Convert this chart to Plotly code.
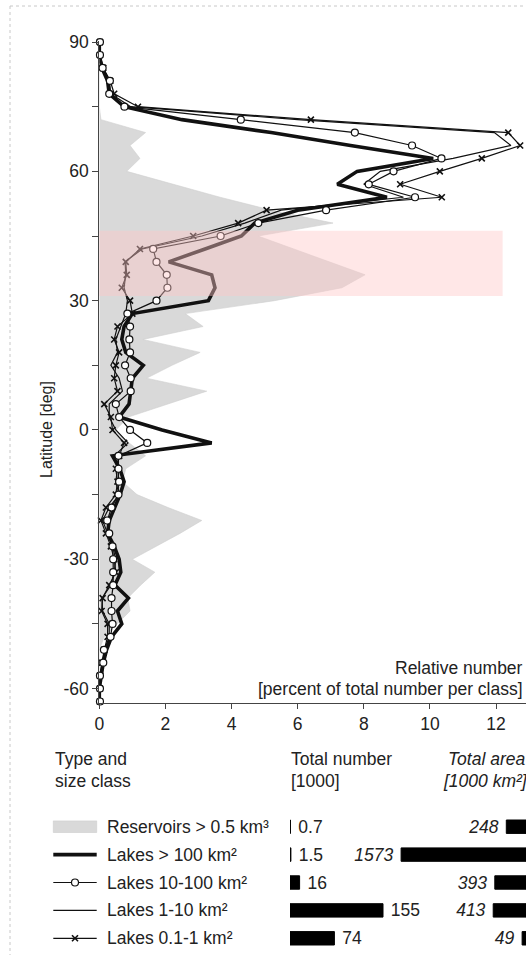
import plotly.graph_objects as go

W, H = 526, 955
FONT = "Liberation Sans, Arial, Helvetica, sans-serif"
TXT = "#222222"
FS = 17.5

# ---------------- data ----------------
lat = [90, 87, 84, 81, 78, 75, 72, 69, 66, 63, 60, 57, 54, 51, 48, 45, 42, 39, 36, 33,
       30, 27, 24, 21, 18, 15, 12, 9, 6, 3, 0, -3, -6, -9, -12, -15, -18, -21, -24, -27,
       -30, -33, -36, -39, -42, -45, -48, -51, -54, -57, -60, -63]

reservoirs = [0, 0, 0, 0, 0, 0, 0.05, 1.4, 0.93, 1.23, 0.83, 2.2, 3.65, 5.2, 7.07, 4.8, 5.9, 6.95, 8.04, 7.34,
              5.3, 2.6, 3.14, 1.32, 3.05, 2.2, 1.43, 3.25, 2.07, 0.88, 0.5, 0.9, 1.4, 0.8, 0.7, 1.14, 2.08, 3.1, 2.44, 1.7,
              1.0, 1.68, 1.25, 0.86, 0.93, 0.54, 0.15, 0, 0, 0, 0, 0]

lakes_gt100 = [0.0, 0.0, 0.08, 0.25, 0.3, 0.75, 2.5, 5.2, 7.6, 10.1, 7.8, 7.2, 8.7, 6.0, 4.7, 4.3, 3.2, 2.1, 3.4, 3.5,
               3.3, 1.0, 0.75, 0.68, 0.8, 1.33, 1.0, 0.95, 0.9, 0.6, 1.9, 3.4, 0.4, 0.62, 0.75, 0.63, 0.45, 0.3, 0.25, 0.45,
               0.6, 0.65, 0.47, 0.88, 0.55, 0.68, 0.37, 0.22, 0.12, 0.05, 0.0, 0.0]

lakes_10_100 = [0.02, 0.02, 0.1, 0.32, 0.3, 0.76, 4.28, 7.73, 9.46, 10.35, 8.9, 8.15, 9.55, 6.86, 4.81, 3.67, 1.63, 1.73, 2.04, 2.06,
                1.73, 0.85, 0.93, 0.91, 0.93, 0.78, 0.95, 0.95, 0.5, 0.6, 0.93, 1.45, 0.58, 0.58, 0.6, 0.58, 0.37, 0.24, 0.3, 0.4,
                0.42, 0.42, 0.42, 0.37, 0.37, 0.4, 0.34, 0.14, 0.12, 0.02, 0.02, 0.02]

lakes_1_10 = [0.02, 0.03, 0.1, 0.3, 0.35, 0.95, 6.0, 11.95, 12.45, 10.7, 8.5, 8.0, 9.2, 5.5, 4.4, 3.1, 1.3, 0.78, 0.8, 0.75,
              0.85, 0.8, 0.65, 0.5, 0.55, 0.35, 0.6, 0.7, 0.3, 0.3, 0.5, 0.87, 0.45, 0.55, 0.5, 0.6, 0.3, 0.1, 0.25, 0.4,
              0.5, 0.45, 0.35, 0.08, 0.1, 0.3, 0.3, 0.15, 0.1, 0.03, 0.02, 0.02]

lakes_01_1 = [0.02, 0.02, 0.12, 0.33, 0.45, 1.17, 6.4, 12.37, 12.73, 11.57, 10.3, 9.1, 10.36, 5.06, 4.2, 2.84, 1.23, 0.8, 0.83, 0.68,
              0.93, 1.0, 0.55, 0.45, 0.6, 0.5, 0.45, 0.55, 0.15, 0.35, 0.4, 0.75, 0.6, 0.5, 0.55, 0.5, 0.2, 0.05, 0.2, 0.35,
              0.45, 0.5, 0.3, 0.1, 0.07, 0.25, 0.25, 0.15, 0.08, 0.02, 0.02, 0.02]

classes = ["Reservoirs > 0.5 km³", "Lakes > 100 km²", "Lakes 10-100 km²", "Lakes 1-10 km²", "Lakes 0.1-1 km²"]
total_number = [0.7, 1.5, 16, 155, 74]          # [1000]
total_number_txt = ["0.7", "1.5", "16", "155", "74"]
total_area = [248, 1573, 393, 413, 49]          # [1000 km²]

x_ticks = [0, 2, 4, 6, 8, 10, 12]
y_ticks = [90, 75, 60, 45, 30, 15, 0, -15, -30, -45, -60]
y_ticktext = ["90", "", "60", "", "30", "", "0", "", "-30", "", "-60"]

# ---------------- helpers (pixel -> paper) ----------------
def px(x):
    return x / W

def py(y):
    return 1 - y / H

# main plot geometry
X0_PX = 99.3
PX_PER_UNIT = 33.06
Y_TOP_PX, Y_BOT_PX = 41.2, 702.8
x_max = (W - X0_PX) / PX_PER_UNIT

fig = go.Figure()

# reservoirs (grey area)
fig.add_trace(go.Scatter(x=reservoirs, y=lat, mode="lines", fill="tozerox",
                         fillcolor="#d9d9d9", line=dict(color="#d0d0d0", width=0.6),
                         xaxis="x", yaxis="y", hoverinfo="skip", showlegend=False))
# lakes > 100 (thick)
fig.add_trace(go.Scatter(x=lakes_gt100, y=lat, mode="lines",
                         line=dict(color="#111111", width=3.6), cliponaxis=False,
                         xaxis="x", yaxis="y", showlegend=False))
# lakes 1-10 (thin)
fig.add_trace(go.Scatter(x=lakes_1_10, y=lat, mode="lines",
                         line=dict(color="#111111", width=1.2), cliponaxis=False,
                         xaxis="x", yaxis="y", showlegend=False))
# lakes 0.1-1 (x markers)
fig.add_trace(go.Scatter(x=lakes_01_1, y=lat, mode="lines+markers",
                         line=dict(color="#111111", width=1.2),
                         marker=dict(symbol="x-thin-open", size=6, color="#111111",
                                     line=dict(color="#111111", width=1.6)),
                         cliponaxis=False, xaxis="x", yaxis="y", showlegend=False))
# lakes 10-100 (open circles)
fig.add_trace(go.Scatter(x=lakes_10_100, y=lat, mode="lines+markers",
                         line=dict(color="#111111", width=1.2),
                         marker=dict(symbol="circle", size=7, color="white", line=dict(color="#111111", width=1.2)),
                         cliponaxis=False, xaxis="x", yaxis="y", showlegend=False))

# ---------------- bar panels ----------------
ROW0, ROW_STEP = 826.7, 27.9
bar_dom = [py(ROW0 + ROW_STEP * 4.5), py(ROW0 - ROW_STEP * 0.5)]

NUM_X0 = 290.0
NUM_PX_PER_UNIT = 0.6
fig.add_trace(go.Bar(y=classes, x=total_number, orientation="h", width=0.48,
                     marker=dict(color="#000000", line=dict(color="#000000", width=1)),
                     text=[" " + t for t in total_number_txt], textposition="outside",
                     textfont=dict(family=FONT, size=FS, color=TXT), constraintext="none",
                     cliponaxis=False, xaxis="x2", yaxis="y2", showlegend=False))

AREA_X0 = 380.0
AREA_PX_PER_UNIT = 0.0794
fig.add_trace(go.Bar(y=classes, x=total_area, orientation="h", width=0.48,
                     marker=dict(color="#000000", line=dict(color="#000000", width=1)),
                     text=[f"{v} " for v in total_area], textposition="outside",
                     textfont=dict(family=FONT, size=FS, color=TXT, style="italic"), constraintext="none",
                     cliponaxis=False, xaxis="x3", yaxis="y3", showlegend=False))

# ---------------- legend glyphs (pixel overlay axis) ----------------
LG_X0, LG_X1 = 53.3, 96.7
LG_XM = (LG_X0 + LG_X1) / 2
rows = [ROW0 + ROW_STEP * i for i in range(len(classes))]

def glyph_line(row, width):
    fig.add_trace(go.Scatter(x=[LG_X0, LG_X1], y=[row, row], mode="lines",
                             line=dict(color="#111111", width=width), xaxis="x4", yaxis="y4",
                             showlegend=False, hoverinfo="skip", cliponaxis=False))

glyph_line(rows[1], 3.6)
glyph_line(rows[2], 1.2)
fig.add_trace(go.Scatter(x=[LG_XM], y=[rows[2]], mode="markers",
                         marker=dict(symbol="circle", size=7, color="white", line=dict(color="#111111", width=1.2)),
                         xaxis="x4", yaxis="y4", showlegend=False, hoverinfo="skip", cliponaxis=False))
glyph_line(rows[3], 1.2)
glyph_line(rows[4], 1.2)
fig.add_trace(go.Scatter(x=[LG_XM], y=[rows[4]], mode="markers",
                         marker=dict(symbol="x-thin-open", size=6, color="#111111",
                                     line=dict(color="#111111", width=1.6)),
                         xaxis="x4", yaxis="y4", showlegend=False, hoverinfo="skip", cliponaxis=False))

shapes = [
    # latitude band (semi-transparent pink, drawn above traces)
    dict(type="rect", xref="x", yref="y", x0=-0.07, x1=12.2, y0=31.1, y1=46.2,
         fillcolor="rgba(255,200,200,0.43)", line=dict(width=0), layer="above"),
    # reservoir legend swatch
    dict(type="rect", xref="paper", yref="paper", x0=px(LG_X0), x1=px(LG_X1),
         y0=py(rows[0] + 5.8), y1=py(rows[0] - 5.8),
         fillcolor="#d9d9d9", line=dict(color="#cccccc", width=0.6)),
    # dotted page frame
    dict(type="line", xref="paper", yref="paper", x0=px(10), x1=1, y0=py(6), y1=py(6),
         line=dict(color="#c8c8c8", width=1, dash="dot")),
    dict(type="line", xref="paper", yref="paper", x0=px(10), x1=px(10), y0=py(6), y1=0,
         line=dict(color="#c8c8c8", width=1, dash="dot")),
]

def ann(x, y, text, xanchor="left", italic=False, size=FS, textangle=0):
    t = f"<i>{text}</i>" if italic else text
    return dict(xref="paper", yref="paper", x=px(x), y=py(y), text=t, showarrow=False,
                xanchor=xanchor, yanchor="middle", textangle=textangle,
                font=dict(family=FONT, size=size, color=TXT))

annotations = [
    ann(525, 668, "Relative number", xanchor="right"),
    ann(525, 689, "[percent of total number per class]", xanchor="right"),
    ann(47, 430, "Latitude [deg]", xanchor="center", textangle=-90, size=16),
    ann(53, 759, "Type and"),
    ann(53, 781, "size class"),
    ann(289, 759, "Total number"),
    ann(289, 781, "[1000]"),
    ann(446, 759, "Total area", italic=True),
    ann(441, 781, "[1000 km²]", italic=True),
]
for i, c in enumerate(classes):
    annotations.append(ann(105, rows[i], c))

fig.update_layout(
    width=W, height=H,
    margin=dict(l=0, r=0, t=0, b=0, autoexpand=False),
    paper_bgcolor="white", plot_bgcolor="rgba(0,0,0,0)",
    font=dict(family=FONT, size=FS, color=TXT),
    showlegend=False,
    xaxis=dict(domain=[px(X0_PX), 1], range=[0, x_max], tickvals=x_ticks,
               ticks="outside", ticklen=5, tickcolor="#444", showline=True, linecolor="#444", linewidth=1,
               showgrid=False, zeroline=False, tickfont=dict(size=FS, color=TXT), anchor="y", automargin=False),
    yaxis=dict(domain=[py(Y_BOT_PX), py(Y_TOP_PX)], range=[-63.3, 90.2], tickvals=y_ticks, ticktext=y_ticktext,
               ticks="outside", ticklen=6, tickcolor="#444", showline=True, linecolor="#444", linewidth=1,
               showgrid=False, zeroline=False, tickfont=dict(size=FS, color=TXT), anchor="x", automargin=False),
    xaxis2=dict(domain=[px(NUM_X0), 1], range=[0, (W - NUM_X0) / NUM_PX_PER_UNIT], visible=False, anchor="y2"),
    yaxis2=dict(domain=bar_dom, type="category", categoryorder="array", categoryarray=classes,
                range=[len(classes) - 0.5, -0.5], visible=False, anchor="x2"),
    xaxis3=dict(domain=[px(AREA_X0), 1], range=[(W - AREA_X0) / AREA_PX_PER_UNIT, 0], visible=False, anchor="y3"),
    yaxis3=dict(domain=bar_dom, type="category", categoryorder="array", categoryarray=classes,
                range=[len(classes) - 0.5, -0.5], visible=False, anchor="x3"),
    xaxis4=dict(domain=[0, 1], range=[0, W], visible=False, anchor="y4"),
    yaxis4=dict(domain=[0, 1], range=[H, 0], visible=False, anchor="x4"),
    shapes=shapes,
    annotations=annotations,
)

fig.write_html("out.html")
